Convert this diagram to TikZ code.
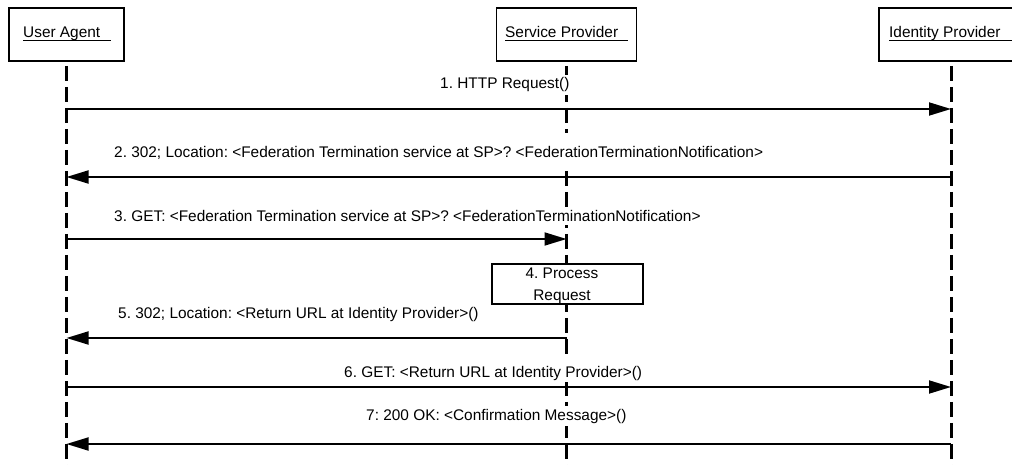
\documentclass[tikz,border=0pt]{standalone}
\usepackage{fontspec}
\setmainfont{Liberation Sans}
\usetikzlibrary{arrows.meta}
% underlined title: a rule of given width under the text
\newcommand\titlebar[2]{\rlap{\rule[-3pt]{#1}{1.3pt}}#2}
\frenchspacing
\begin{document}
\begin{tikzpicture}[x=1pt,y=-1pt,
  actor/.style={draw=black,line width=1.8pt,fill=white,inner sep=0pt},
  actortext/.style={anchor=base west,inner sep=0pt,font=\fontsize{15.4}{18}\selectfont},
  lifeline/.style={line width=3pt,dash pattern=on 15pt off 6pt},
  msg/.style={line width=1.8pt,-{Triangle[length=22pt,width=13pt]}},
  msgtext/.style={anchor=base west,fill=white,inner xsep=1pt,inner ysep=3pt,font=\fontsize{15.4}{18}\selectfont},
  procbox/.style={draw=black,line width=1.8pt,fill=white,inner sep=0pt}]
\useasboundingbox (0,0) rectangle (1012,465);

% actor boxes (empty frames, titles set separately)
\node[actor,minimum width=115pt,minimum height=53pt] (ua) at (66.5,34.5) {};
\node[actor,minimum width=140pt,minimum height=53pt] (sp) at (566.5,34.5) {};
\node[actor,minimum width=144pt,minimum height=53pt] (idp) at (951,34.5) {};

% lifelines
\coordinate (bottom) at (0,470);
\draw[lifeline] ([yshift=-4pt]ua.south) -- (ua.south |- bottom);
\draw[lifeline] ([yshift=-4pt]sp.south) -- (sp.south |- bottom);
\draw[lifeline] ([yshift=-4pt]idp.south) -- (idp.south |- bottom);

% redraw actor frames over the lifeline tops
\node[actor,minimum width=115pt,minimum height=53pt] at (ua) {};
\node[actor,minimum width=140pt,minimum height=53pt] at (sp) {};
\node[actor,minimum width=144pt,minimum height=53pt] at (idp) {};
\node[actortext] (uat) at (23,38) {\titlebar{88pt}{User Agent}};
\node[actortext] (spt) at (505,38) {\titlebar{123pt}{Service Provider}};
\node[actortext] (idpt) at (889,38) {\titlebar{130pt}{Identity Provider}};

% message rows
\coordinate (m1) at (0,109);
\coordinate (m2) at (0,177);
\coordinate (m3) at (0,239);
\coordinate (m5) at (0,338);
\coordinate (m6) at (0,387);
\coordinate (m7) at (0,444);

\draw[msg] (ua |- m1) -- (idp |- m1);
\draw[msg] (idp |- m2) -- (ua |- m2);
\draw[msg] (ua |- m3) -- (sp |- m3);
\draw[msg] (sp |- m5) -- (ua |- m5);
\draw[msg] (ua |- m6) -- (idp |- m6);
\draw[msg] (idp |- m7) -- (ua |- m7);

% message labels
\node[msgtext] (l1) at (439,89) {1. HTTP Request()};
\node[msgtext,inner ysep=0pt,text height=25pt,text depth=9pt] (l2) at (113,158) {2. 302; Location: <Federation Termination service at SP>? <FederationTerminationNotification>};
\node[msgtext] (l3) at (113,222) {3. GET: <Federation Termination service at SP>? <FederationTerminationNotification>};
\node[msgtext] (l5) at (117,318) {5. 302; Location: <Return URL at Identity Provider>()};
\node[msgtext,inner ysep=0pt,text height=22pt,text depth=5pt] (l6) at (343,377) {6. GET: <Return URL at Identity Provider>()};
\node[msgtext] (l7) at (365,420) {7: 200 OK: <Confirmation Message>()};

% local processing step on the service provider
\node[procbox,minimum width=151pt,minimum height=40pt] (proc) at (567.5,284) {};
\node[anchor=base,inner sep=0pt,align=center,font=\fontsize{15.4}{22}\selectfont] (proct) at (562,300) {4. Process\\Request};
\end{tikzpicture}
\end{document}
